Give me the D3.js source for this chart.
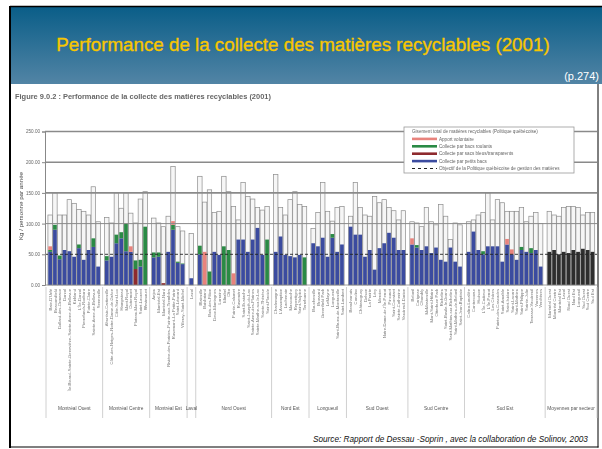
<!DOCTYPE html>
<html>
<head>
<meta charset="utf-8">
<title>Performance de la collecte des matières recyclables (2001)</title>
<script src="https://cdnjs.cloudflare.com/ajax/libs/d3/7.8.5/d3.min.js"></script>
<style>
  body { margin: 0; background: #fff; }
  svg { display: block; }
  text { font-family: "Liberation Sans", Arial, sans-serif; }
</style>
</head>
<body>
<script>
    // secteurs et municipalités (une liste par secteur)
    var secteurs = ['Montréal Ouest', 'Montréal Centre', 'Montréal Est', 'Laval', 'Nord Ouest', 'Nord Est',
        'Longueuil', 'Sud Ouest', 'Sud Centre', 'Sud Est', 'Moyennes par secteur'];

    var villes = [
        ['Baie-D\'Urfé', 'Beaconsfield', 'Dollard-des-Ormeaux', 'Dorval', 'Île-Bizard–Sainte-Geneviève–Sainte-Anne-de-Bellevue',
         'Kirkland', 'L\'Île-Dorval', 'Pierrefonds-Roxboro', 'Pointe-Claire', 'Sainte-Anne-de-Bellevue', 'Senneville'],
        ['Ahuntsic-Cartierville', 'Côte-des-Neiges–Notre-Dame-de-Grâce', 'Côte-Saint-Luc', 'Hampstead', 'Mont-Royal',
         'Outremont', 'Plateau-Mont-Royal', 'Saint-Laurent', 'Westmount'],
        ['Anjou', 'Montréal-Est', 'Montréal-Nord', 'Rivière-des-Prairies–Pointe-aux-Trembles', 'Rosemont–La Petite-Patrie',
         'Saint-Léonard', 'Villeray–Saint-Michel'],
        ['Laval'],
        ['Blainville', 'Boisbriand', 'Bois-des-Filion', 'Deux-Montagnes', 'Lorraine', 'Mirabel', 'Oka', 'Pointe-Calumet',
         'Rosemère', 'Saint-Eustache', 'Saint-Joseph-du-Lac', 'Sainte-Anne-des-Plaines', 'Sainte-Marthe-sur-le-Lac',
         'Sainte-Thérèse', 'Saint-Placide'],
        ['Charlemagne', 'L\'Assomption', 'Lachenaie', 'Mascouche', 'Repentigny', 'Saint-Sulpice', 'Terrebonne'],
        ['Boucherville', 'Brossard', 'Greenfield Park', 'LeMoyne', 'Longueuil', 'Saint-Bruno-de-Montarville', 'Saint-Lambert'],
        ['Beauharnois', 'Candiac', 'Châteauguay', 'Delson', 'La Prairie', 'Léry', 'Mercier', 'Notre-Dame-de-l\'Île-Perrot',
         'Pincourt', 'Saint-Constant', 'Sainte-Catherine', 'Vaudreuil-Dorion'],
        ['Beloeil', 'Carignan', 'Chambly', 'McMasterville', 'Mont-Saint-Hilaire', 'Otterburn Park', 'Richelieu',
         'Saint-Basile-le-Grand', 'Saint-Mathias-sur-Richelieu', 'Saint-Mathieu-de-Beloeil', 'Saint-Jean-Baptiste'],
        ['Calixa-Lavallée', 'Contrecoeur', 'Hudson', 'L\'Île-Cadieux', 'L\'Île-Perrot', 'Les Cèdres', 'Pointe-des-Cascades',
         'Saint-Amable', 'Saint-Isidore', 'Saint-Lazare', 'Saint-Mathieu', 'Saint-Philippe', 'Sainte-Julie',
         'Terrasse-Vaudreuil', 'Varennes', 'Verchères'],
        ['Montréal Ouest', 'Montréal Centre', 'Montréal Est', 'Laval', 'Nord Ouest', 'Nord Est', 'Longueuil',
         'Sud Ouest', 'Sud Centre', 'Sud Est']
    ];

    // kg / personne par année, une ligne par secteur
    var gisement = [
        114, 150, 114, 114, 139, 133, 123, 120, 114, 160, 103,
        110, 101, 150, 125, 150, 117, 101, 140, 152,
        109, 101, 95, 112, 193, 95, 88,
        84,
        177, 135, 155, 118, 120, 177, 152, 128, 106, 167, 144, 140, 126, 122, 128,
        180, 126, 114, 139, 152, 131, 128,
        92, 118, 167, 120, 104, 126, 128,
        112, 167, 126, 114, 112, 144, 134, 139, 126, 121, 106, 121,
        103, 101, 95, 126, 103, 98, 131, 112, 74, 101, 98,
        103, 106, 114, 118, 150, 106, 139, 134, 120, 120, 120, 126, 103, 112, 118, 100,
        120, 114, 112, 126, 128, 128, 126, 114, 118, 118
    ];
    var petitsBacs = [
        54, 90, 42, 57, 55, 46, 60, 41, 57, 62, 30,
        40, 46, 68, 76, 55, 54, 0, 30, 0,
        45, 46, 0, 54, 90, 36, 34,
        11,
        50, 0, 0, 54, 49, 0, 0, 0, 74, 74, 54, 74, 93, 49, 0,
        54, 79, 49, 47, 45, 49, 0,
        68, 63, 77, 46, 77, 54, 66,
        95, 82, 82, 46, 57, 25, 60, 68, 85, 77, 57, 57,
        66, 61, 57, 63, 52, 61, 41, 38, 61, 38, 30,
        54, 87, 57, 50, 63, 63, 63, 38, 66, 50, 41, 57, 54, 52, 57, 30,
        0, 0, 0, 0, 0, 0, 0, 0, 0, 0
    ];
    var sacs = [
        0, 0, 0, 0, 0, 0, 0, 0, 0, 0, 0,
        0, 0, 0, 0, 0, 0, 26, 0, 0,
        0, 0, 3, 0, 0, 0, 0,
        0,
        0, 0, 0, 0, 0, 0, 0, 0, 0, 0, 0, 0, 0, 0, 0,
        0, 0, 0, 0, 0, 0, 0,
        0, 0, 0, 0, 0, 0, 0,
        0, 0, 0, 0, 0, 0, 0, 0, 0, 0, 0, 0,
        0, 0, 0, 0, 0, 0, 0, 0, 0, 0, 0,
        0, 0, 0, 0, 0, 0, 0, 0, 0, 0, 0, 0, 0, 0, 0, 0,
        0, 0, 0, 0, 0, 0, 0, 0, 0, 0
    ];
    var bacsRoulants = [
        3, 8, 6, 0, 0, 0, 6, 0, 0, 14, 0,
        7, 0, 14, 10, 45, 0, 14, 11, 95,
        8, 7, 0, 0, 8, 2, 1,
        0,
        14, 0, 22, 0, 0, 63, 57, 0, 0, 0, 0, 0, 0, 0, 74,
        0, 0, 0, 0, 0, 0, 45,
        0, 0, 0, 0, 6, 0, 0,
        0, 0, 0, 0, 0, 0, 0, 0, 0, 0, 0, 0,
        0, 4, 0, 0, 0, 0, 0, 0, 0, 0, 0,
        0, 0, 0, 5, 0, 0, 0, 0, 0, 0, 0, 5, 0, 8, 0, 0,
        0, 0, 0, 0, 0, 0, 0, 0, 0, 0
    ];
    var apport = [
        6, 0, 0, 0, 0, 0, 0, 0, 0, 0, 0,
        0, 0, 0, 0, 0, 9, 0, 0, 0,
        0, 0, 0, 0, 6, 0, 0,
        0,
        0, 54, 0, 0, 0, 0, 0, 19, 0, 0, 0, 0, 0, 0, 0,
        0, 0, 0, 0, 0, 0, 0,
        0, 0, 0, 0, 0, 0, 0,
        0, 0, 0, 0, 0, 0, 0, 0, 0, 0, 0, 0,
        10, 0, 0, 0, 0, 0, 0, 0, 0, 0, 0,
        0, 0, 0, 0, 0, 0, 0, 0, 9, 8, 0, 0, 0, 0, 0, 0,
        0, 0, 0, 0, 0, 0, 0, 0, 0, 0
    ];
    // moyenne récupérée par secteur (barres foncées)
    var moyenne = [
        0, 0, 0, 0, 0, 0, 0, 0, 0, 0, 0,
        0, 0, 0, 0, 0, 0, 0, 0, 0,
        0, 0, 0, 0, 0, 0, 0,
        0,
        0, 0, 0, 0, 0, 0, 0, 0, 0, 0, 0, 0, 0, 0, 0,
        0, 0, 0, 0, 0, 0, 0,
        0, 0, 0, 0, 0, 0, 0,
        0, 0, 0, 0, 0, 0, 0, 0, 0, 0, 0, 0,
        0, 0, 0, 0, 0, 0, 0, 0, 0, 0, 0,
        0, 0, 0, 0, 0, 0, 0, 0, 0, 0, 0, 0, 0, 0, 0, 0,
        54, 57, 50, 54, 52, 57, 54, 59, 57, 54
    ];
    var objectif = 50;
    var yTicks = [0, 50, 100, 150, 200, 250];
    var grilles = [100, 150, 200, 250];

    var legende = [
        {key: null, label: 'Gisement total de matières recyclables (Politique québécoise)'},
        {key: 'apport', label: 'Apport volontaire'},
        {key: 'bacsRoulants', label: 'Collecte par bacs roulants'},
        {key: 'sacs', label: 'Collecte par sacs bleus/transparents'},
        {key: 'petitsBacs', label: 'Collecte par petits bacs'},
        {key: 'objectif', label: 'Objectif de la Politique québécoise de gestion des matières'}
    ];

    var couleurs = {
        petitsBacs: '#3a4c9f',
        sacs: '#8e2a2e',
        bacsRoulants: '#2b8a44',
        apport: '#e8837d',
        moyenne: '#2e2e2e'
    };
    var keys = ['petitsBacs', 'sacs', 'bacsRoulants', 'apport', 'moyenne'];
    var series = {petitsBacs: petitsBacs, sacs: sacs, bacsRoulants: bacsRoulants, apport: apport, moyenne: moyenne};

    // table des barres
    var gap = 0.8;
    var rows = [], bornes = [], u = 0, k = 0;
    secteurs.forEach(function(s, g) {
        var start = u;
        u += gap / 2;
        villes[g].forEach(function(v) {
            var r = {ville: v, secteur: s, slot: u, gisement: gisement[k]};
            keys.forEach(function(key) { r[key] = series[key][k]; });
            rows.push(r);
            u += 1; k += 1;
        });
        u += gap / 2;
        bornes.push({secteur: s, start: start, end: u});
    });

    var W = 602, H = 449;
    var svg = d3.select('body').append('svg')
        .attr('width', W)
        .attr('height', H);

    // bandeau titre
    var defs = svg.append('defs');
    var grad = defs.append('linearGradient')
        .attr('id', 'bandeau')
        .attr('x1', 0).attr('y1', 0).attr('x2', 0).attr('y2', 1);
    grad.append('stop').attr('offset', '0%').attr('stop-color', '#0a5e88');
    grad.append('stop').attr('offset', '100%').attr('stop-color', '#5284a5');

    // la figure est une numérisation floue
    defs.append('filter')
        .attr('id', 'scan')
        .append('feGaussianBlur')
        .attr('stdDeviation', 0.35);

    svg.append('rect')
        .attr('x', 11).attr('y', 7)
        .attr('width', W - 11).attr('height', 77)
        .attr('fill', 'url(#bandeau)');

    function fit(sel, w) {
        var fs = +sel.attr('font-size');
        var len = sel.node().getComputedTextLength();
        sel.attr('font-size', fs * w / len);
    }

    svg.append('text')
        .attr('x', 303).attr('y', 51)
        .attr('text-anchor', 'middle')
        .attr('font-size', 18)
        .attr('fill', '#f7c600')
        .attr('stroke', '#f7c600')
        .attr('stroke-width', 0.35)
        .text('Performance de la collecte des matières recyclables (2001)')
        .call(fit, 494);

    svg.append('text')
        .attr('x', 599).attr('y', 80)
        .attr('text-anchor', 'end')
        .attr('font-size', 11)
        .attr('fill', '#fff')
        .text('(p.274)');

    // cadre
    svg.append('line').attr('x1', 10).attr('x2', 10).attr('y1', 6).attr('y2', 448)
        .attr('stroke', '#000').attr('stroke-width', 2);
    svg.append('line').attr('x1', 10).attr('x2', W).attr('y1', 6.5).attr('y2', 6.5)
        .attr('stroke', '#000').attr('stroke-width', 1.5);
    svg.append('line').attr('x1', 10).attr('x2', 598.5).attr('y1', 447).attr('y2', 447)
        .attr('stroke', '#000').attr('stroke-width', 1.2);
    svg.append('line').attr('x1', 598).attr('x2', 598).attr('y1', 84).attr('y2', 447.5)
        .attr('stroke', '#000').attr('stroke-width', 1);

    var fig = svg.append('g').attr('filter', 'url(#scan)');

    fig.append('text')
        .attr('x', 15).attr('y', 99)
        .attr('font-size', 6.3)
        .attr('font-weight', 'bold')
        .attr('fill', '#666')
        .text('Figure 9.0.2 : Performance de la collecte des matières recyclables (2001)')
        .call(fit, 256);

    // échelles
    var x = d3.scaleLinear().domain([0, u]).range([46, 597]);
    var y = d3.scaleLinear().domain([0, 250]).range([285, 131.5]);

    var plot = fig.append('g');

    // barres du gisement
    plot.append('g').selectAll('rect')
        .data(rows).enter()
        .append('rect')
        .attr('x', function(d) { return x(d.slot); })
        .attr('width', (x(1) - x(0)) * 0.92)
        .attr('y', function(d) { return y(d.gisement); })
        .attr('height', function(d) { return y(0) - y(d.gisement); })
        .attr('fill', '#f6f6f6')
        .attr('stroke', '#8c8c8c')
        .attr('stroke-width', 0.7);

    // collecte empilée
    var stack = d3.stack().keys(keys)(rows);
    plot.append('g').selectAll('g')
        .data(stack).enter()
        .append('g')
        .attr('fill', function(s) { return couleurs[s.key]; })
        .selectAll('rect')
        .data(function(s) { return s.filter(function(p) { return p[1] > p[0]; }); })
        .enter().append('rect')
        .attr('x', function(p) { return x(p.data.slot) + 0.35; })
        .attr('width', (x(1) - x(0)) * 0.92 - 0.7)
        .attr('y', function(p) { return y(p[1]); })
        .attr('height', function(p) { return y(p[0]) - y(p[1]); });

    // grilles et objectif
    plot.append('g').selectAll('line')
        .data(grilles).enter()
        .append('line')
        .attr('x1', 45).attr('x2', 597)
        .attr('y1', y).attr('y2', y)
        .attr('stroke', '#8a8a8a')
        .attr('stroke-width', function(d) { return d === 100 ? 1 : 1.6; });

    plot.append('line')
        .attr('x1', 45).attr('x2', 597)
        .attr('y1', y(objectif)).attr('y2', y(objectif))
        .attr('stroke', '#222')
        .attr('stroke-width', 0.9)
        .attr('stroke-dasharray', '3,2');

    plot.append('line')
        .attr('x1', 45).attr('x2', 597)
        .attr('y1', y(0)).attr('y2', y(0))
        .attr('stroke', '#888').attr('stroke-width', 0.8);

    // axe vertical
    var yax = d3.axisLeft(y)
        .tickValues(yTicks)
        .tickSize(3)
        .tickPadding(2)
        .tickFormat(d3.format('.2f'));
    var ag = fig.append('g')
        .attr('transform', 'translate(45,0)')
        .call(yax);
    ag.attr('font-family', null);
    ag.select('.domain').attr('stroke', '#888');
    ag.selectAll('.tick line').attr('stroke', '#888');
    ag.selectAll('.tick text')
        .attr('font-size', 4.6)
        .attr('fill', '#666');

    fig.append('text')
        .attr('transform', 'translate(23,206) rotate(-90)')
        .attr('text-anchor', 'middle')
        .attr('font-size', 6.2)
        .attr('fill', '#444')
        .text('Kg / personne par année');

    // noms des municipalités
    fig.append('g').selectAll('text')
        .data(rows).enter()
        .append('text')
        .attr('transform', function(d) {
            return 'translate(' + (x(d.slot + 0.5) + 1.5) + ',289) rotate(-90)';
        })
        .attr('text-anchor', 'end')
        .attr('font-size', 4.2)
        .attr('fill', '#777')
        .text(function(d) { return d.ville; });

    // séparateurs et noms des secteurs
    var sep = fig.append('g');
    sep.selectAll('line')
        .data(bornes.map(function(b) { return b.start; }).concat([u])).enter()
        .append('line')
        .attr('x1', x).attr('x2', x)
        .attr('y1', 287).attr('y2', 418)
        .attr('stroke', '#c4c4c4')
        .attr('stroke-width', 0.8);

    sep.selectAll('text')
        .data(bornes).enter()
        .append('text')
        .attr('x', function(b) { return x((b.start + b.end) / 2); })
        .attr('y', 410)
        .attr('text-anchor', 'middle')
        .attr('font-size', 4.8)
        .attr('fill', '#555')
        .text(function(b) { return b.secteur; });

    // légende
    var lg = fig.append('g').attr('transform', 'translate(404,127)');
    lg.append('rect')
        .attr('width', 170).attr('height', 46)
        .attr('fill', '#fff')
        .attr('stroke', '#9a9a9a')
        .attr('stroke-width', 0.8);
    var item = lg.selectAll('g.item')
        .data(legende).enter()
        .append('g')
        .attr('class', 'item')
        .attr('transform', function(d, i) { return 'translate(8,' + (4.5 + i * 7.4) + ')'; });
    item.filter(function(d) { return d.key && d.key !== 'objectif'; })
        .append('line')
        .attr('x1', 0).attr('x2', 25)
        .attr('stroke', function(d) { return couleurs[d.key]; })
        .attr('stroke-width', 2.6);
    item.filter(function(d) { return d.key === 'objectif'; })
        .append('line')
        .attr('x1', 0).attr('x2', 25)
        .attr('stroke', '#222')
        .attr('stroke-width', 1)
        .attr('stroke-dasharray', '3,3');
    item.append('text')
        .attr('x', function(d) { return d.key ? 27 : 0; })
        .attr('dy', '0.35em')
        .attr('font-size', 4.6)
        .attr('fill', '#666')
        .text(function(d) { return d.label; });

    // source
    svg.append('text')
        .attr('x', 313).attr('y', 442)
        .attr('font-size', 7.5)
        .attr('font-style', 'italic')
        .attr('fill', '#111')
        .text('Source: Rapport de Dessau -Soprin , avec la collaboration de Solinov, 2003')
        .call(fit, 275);
</script>
</body>
</html>
